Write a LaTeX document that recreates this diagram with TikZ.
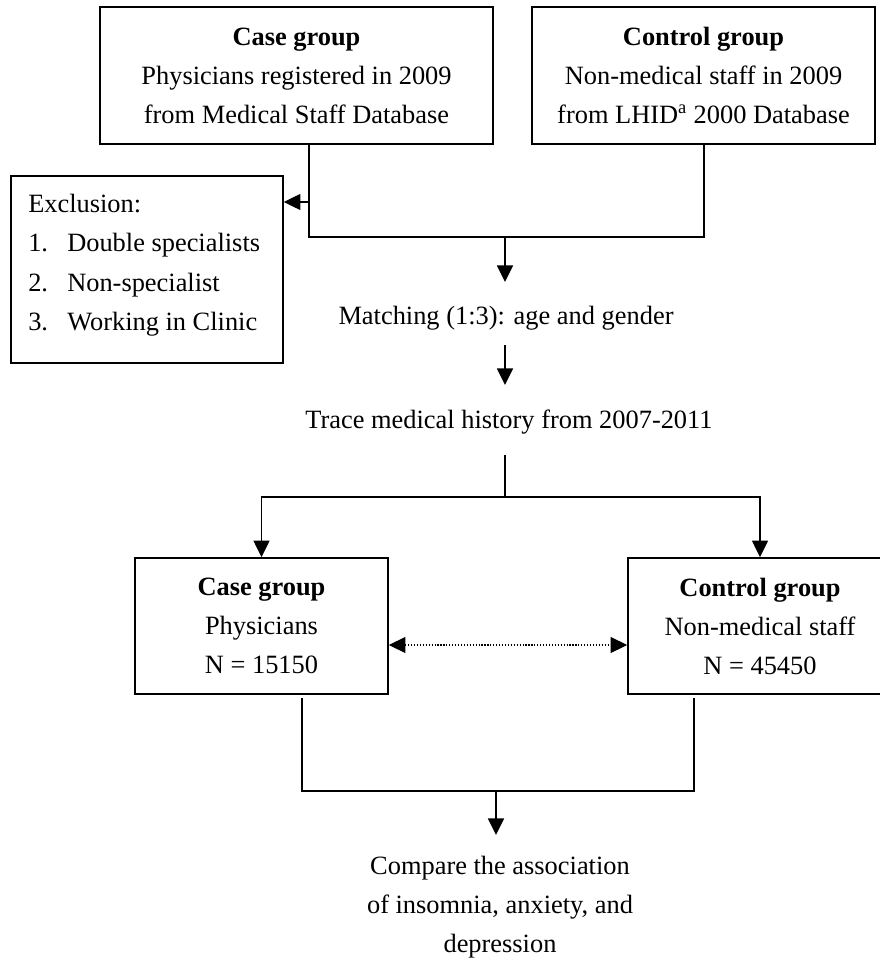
\documentclass[tikz,border=0pt]{standalone}
\usepackage{fontspec}
\setmainfont{Liberation Serif}
\usetikzlibrary{arrows.meta}
\tikzset{
  box/.style={draw, line width=1.2pt, align=center, inner sep=0pt},
  txt/.style={align=center, inner sep=0pt},
  conn/.style={line width=1.2pt},
  arr/.style={line width=1.2pt, -{Triangle[length=12.5pt,width=12pt]}},
  dotarr/.style={line width=0.9pt, dash pattern=on 0.9pt off 1.3pt, {Triangle[length=12.5pt,width=12pt]}-{Triangle[length=12.5pt,width=12pt]}},
}
\begin{document}
\begin{tikzpicture}[x=0.75pt,y=-0.75pt]
\fontsize{19.8pt}{29.25pt}\selectfont
\useasboundingbox (0,0) rectangle (880,959);
% top boxes
\node[box, minimum width=294.75pt, minimum height=102.75pt] (caseTop) at (296.5,75.5)
  {\textbf{Case group}\\Physicians registered in 2009\\from Medical Staff Database};
\node[box, minimum width=257.25pt, minimum height=102.75pt] (ctrlTop) at (703.5,75.5)
  {\textbf{Control group}\\Non-medical staff in 2009\\from LHID\textsuperscript{a} 2000 Database};
% exclusion box
\node[box, minimum width=204pt, minimum height=140.25pt] (excl) at (147,269.5) {};
\node[anchor=base west, inner sep=0pt] (ex0) at (28,213) {Exclusion:};
\node[anchor=base west, inner sep=0pt] (ex1) at (28,252) {\makebox[29.25pt][l]{1.}Double specialists};
\node[anchor=base west, inner sep=0pt] (ex2) at (28,291) {\makebox[29.25pt][l]{2.}Non-specialist};
\node[anchor=base west, inner sep=0pt] (ex3) at (28,330) {\makebox[29.25pt][l]{3.}Working in Clinic};
% middle texts
\node[txt] (match) at (506,318) {Matching (1:3): age and gender};
\node[txt] (trace) at (509,422) {Trace medical history from 2007-2011};
% bottom boxes
\node[box, minimum width=189.75pt, minimum height=102pt] (caseBot) at (261.5,626)
  {\textbf{Case group}\\Physicians\\N = 15150};
\node[box, minimum width=198pt, minimum height=102pt] (ctrlBot) at (760,626)
  {\textbf{Control group}\\Non-medical staff\\N = 45450};
\node[txt] (compare) at (500,907) {Compare the association\\of insomnia, anxiety, and\\depression};
% coordinates
\coordinate (j1) at (309,237);
\coordinate (j2) at (704,237);
\coordinate (je) at (309,202);
\coordinate (jm) at (505,237);
\coordinate (a1) at (505,282);
\coordinate (m1) at (505,345);
\coordinate (m2) at (505,385);
\coordinate (t1) at (505,455);
\coordinate (t2) at (505,497);
\coordinate (dd) at (500,645);
\coordinate (b1) at (302,791);
\coordinate (b2) at (694,791);
\coordinate (b3) at (496,791);
\coordinate (b4) at (496,835);
% connectors
\draw[conn] (caseTop.south -| j1) -- (j1) -- (j2) -- (ctrlTop.south -| j2);
\draw[arr] (je) -- (je -| excl.east);
\draw[arr] (jm) -- (a1);
\draw[arr] (m1) -- (m2);
\draw[conn] (t1) -- (t2);
\draw[arr] (t2) -| (caseBot.north);
\draw[arr] (t2) -| (ctrlBot.north);
\draw[dotarr] (caseBot.east |- dd) -- (ctrlBot.west |- dd);
\draw[conn] ([yshift=-2.5pt]caseBot.south -| b1) -- (b1) -- (b2) -- ([yshift=-2.5pt]ctrlBot.south -| b2);
\draw[arr] (b3) -- (b4);
\end{tikzpicture}
\end{document}
